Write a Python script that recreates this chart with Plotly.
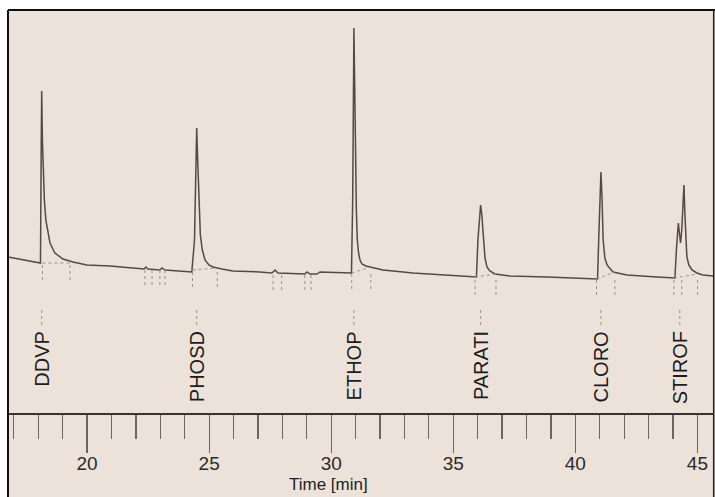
import plotly.graph_objects as go

# ---- data (time in min, detector signal in arbitrary units) ----
time_min = [16.76, 17.45, 18.07, 18.09, 18.12, 18.14, 18.17, 18.21, 18.25, 18.31, 18.40, 18.48,
            18.68, 19.01, 19.42, 19.99, 20.94, 21.75, 22.33, 22.41, 22.49, 22.98, 23.07, 23.19,
            24.21, 24.29, 24.40, 24.45, 24.49, 24.53, 24.58, 24.64, 24.72, 24.83, 24.99, 25.16,
            25.52, 25.97, 27.08, 27.57, 27.70, 27.82, 28.92, 29.01, 29.13, 29.42, 29.54,
            30.83, 30.88, 30.91, 30.93, 30.96, 30.99, 31.03, 31.07, 31.12, 31.18, 31.26, 31.42,
            31.59, 32.12, 33.35, 34.45, 35.68,
            35.95, 36.01, 36.07, 36.12, 36.17, 36.24, 36.30, 36.38, 36.50, 36.71, 37.32, 38.84,
            40.89, 40.91, 40.97, 41.02, 41.05, 41.09, 41.14, 41.21, 41.30, 41.54, 42.12, 43.34,
            44.08, 44.14, 44.18, 44.22, 44.26, 44.31, 44.36, 44.41, 44.45, 44.49, 44.52, 44.57,
            44.65, 44.78, 44.98, 45.23, 45.64]
signal = [156, 153, 150, 150, 263, 322, 273, 238, 213, 193, 179, 170,
          160, 154, 151, 148, 147, 145, 144, 146, 144, 143, 145, 143,
          141, 141, 173, 243, 285, 253, 213, 178, 163, 153, 148, 146,
          144, 142, 141, 140, 143, 140, 139, 141, 139, 139, 141,
          140, 213, 313, 385, 333, 263, 203, 173, 160, 153, 149, 147,
          146, 143, 140, 138, 136,
          136, 173, 198, 208, 198, 173, 155, 146, 142, 139, 137, 136,
          134, 134, 183, 223, 241, 218, 173, 155, 148, 141, 138, 136,
          135, 163, 183, 190, 181, 170, 183, 213, 228, 198, 173, 156,
          148, 143, 140, 138, 137]

peak_names = ["DDVP", "PHOSD", "ETHOP", "PARATI", "CLORO", "STIROF"]
peak_times = [18.14, 24.49, 30.93, 36.12, 41.05, 44.28]

event_times = [18.17, 19.30, 22.37, 22.66, 22.98, 23.19, 24.32, 25.33, 27.62, 27.97, 28.92,
               29.17, 30.84, 31.62, 35.89, 36.75, 40.87, 41.62, 44.04, 44.36, 45.01]
event_levels = [148, 148, 143, 143, 143, 143, 141, 141, 138, 138, 138,
                138, 139, 139, 133, 133, 133, 133, 133, 133, 133]

bl_start = [18.17, 24.32, 30.84, 35.89, 40.87, 44.04]
bl_end = [19.30, 25.33, 31.62, 36.75, 41.62, 45.01]
bl_level_start = [150, 143, 140, 136, 134, 135]
bl_level_end = [150, 145, 146, 139, 141, 139]

major_ticks = [20, 25, 30, 35, 40, 45]
major_tick_text = ["20", "25", "30", "35", "40", "45"]

# ---- style ----
PAPER = "#ede2da"
TRACE = "#574845"
MARK = "#9c908c"
FONT = "Liberation Sans, Arial, sans-serif"

fig = go.Figure()
fig.add_trace(go.Scatter(x=time_min, y=signal, mode="lines",
                         line=dict(color=TRACE, width=1.5), hoverinfo="skip",
                         showlegend=False))

shapes = []
# paper background inside frame
shapes.append(dict(type="rect", xref="paper", yref="paper", x0=0, x1=1.01, y0=-0.3, y1=1,
                   fillcolor=PAPER, line=dict(width=0), layer="below"))
# frame
shapes.append(dict(type="line", xref="paper", yref="paper", x0=0, x1=0, y0=-0.3, y1=1.0,
                   line=dict(color="#111111", width=2)))
shapes.append(dict(type="line", xref="paper", yref="paper", x0=0, x1=1.01, y0=1.0, y1=1.0,
                   line=dict(color="#111111", width=2)))
shapes.append(dict(type="line", xref="paper", yref="paper", x0=1.001, x1=1.001, y0=-0.3, y1=1.0,
                   line=dict(color="#222222", width=1.5)))

# integration event marks
for t, lv in zip(event_times, event_levels):
    shapes.append(dict(type="line", xref="x", yref="y", x0=t, x1=t, y0=lv, y1=lv - 16,
                       line=dict(color=MARK, width=1, dash="dot")))
# integration baselines
for a, b, la, lb in zip(bl_start, bl_end, bl_level_start, bl_level_end):
    shapes.append(dict(type="line", xref="x", yref="y", x0=a, x1=b, y0=la, y1=lb,
                       line=dict(color=MARK, width=1, dash="dot")))
# label leader lines
for t in peak_times:
    shapes.append(dict(type="line", xref="x", yref="y", x0=t, x1=t, y0=103, y1=87,
                       line=dict(color=MARK, width=1, dash="dot")))

annotations = []
for name, t in zip(peak_names, peak_times):
    annotations.append(dict(x=t, y=84, xref="x", yref="y", text=name, showarrow=False,
                            textangle=-90, xanchor="center", yanchor="top",
                            font=dict(family=FONT, size=20, color="#1c1c1c")))
annotations.append(dict(x=29.87, y=-0.178, xref="x", yref="paper", text="Time [min]",
                        showarrow=False, xanchor="center", yanchor="middle",
                        font=dict(family=FONT, size=17, color="#222222")))

fig.update_layout(
    width=715, height=497,
    margin=dict(l=8, r=2, t=10, b=84),
    paper_bgcolor="white",
    plot_bgcolor="rgba(0,0,0,0)",
    shapes=shapes,
    annotations=annotations,
    showlegend=False,
    xaxis=dict(range=[16.76, 45.64], tickvals=major_ticks, ticktext=major_tick_text,
               ticks="outside", ticklen=38, tickwidth=1.2, tickcolor="#6e6562",
               ticklabelstandoff=-5,
               showline=True, linecolor="#3a3333", linewidth=1.5,
               showgrid=False, zeroline=False, fixedrange=True,
               tickfont=dict(family=FONT, size=19, color="#2a2a2a"),
               minor=dict(ticks="outside", dtick=1, tick0=0, ticklen=24, tickwidth=1.2,
                          tickcolor="#6e6562", showgrid=False)),
    yaxis=dict(range=[0, 403], visible=False, fixedrange=True),
)

fig.write_html("out.html", config={"displayModeBar": False, "staticPlot": True},
               post_script="document.body.style.margin='0';document.body.style.overflow='hidden';")
